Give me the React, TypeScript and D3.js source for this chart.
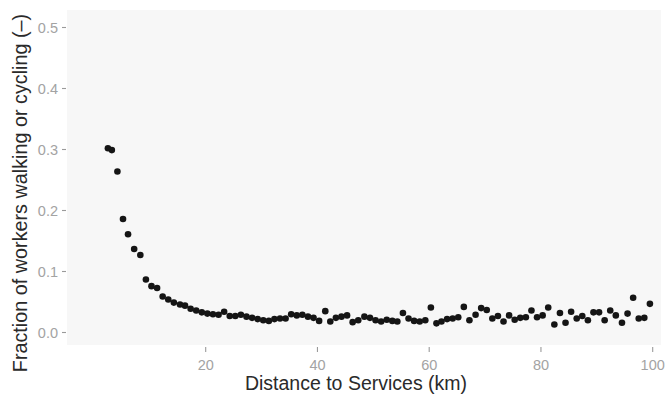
import React from "react";
import * as d3 from "d3";

const distanceKm = [
  2.5, 3.2, 4.2, 5.2, 6.1, 7.2, 8.3, 9.3, 10.3, 11.3, 12.3, 13.3, 14.3, 15.4,
  16.3, 17.3, 18.3, 19.3, 20.3, 21.3, 22.3, 23.3, 24.3, 25.3, 26.3, 27.3, 28.3,
  29.3, 30.3, 31.3, 32.3, 33.3, 34.3, 35.3, 36.3, 37.3, 38.3, 39.3, 40.3, 41.4,
  42.3, 43.3, 44.3, 45.3, 46.3, 47.3, 48.4, 49.4, 50.4, 51.4, 52.4, 53.4, 54.3,
  55.3, 56.3, 57.3, 58.3, 59.3, 60.3, 61.3, 62.2, 63.2, 64.2, 65.2, 66.2, 67.2,
  68.3, 69.3, 70.3, 71.3, 72.3, 73.3, 74.3, 75.3, 76.3, 77.3, 78.3, 79.3, 80.3,
  81.3, 82.4, 83.4, 84.4, 85.4, 86.4, 87.4, 88.4, 89.4, 90.4, 91.4, 92.4, 93.4,
  94.5, 95.5, 96.5, 97.5, 98.5, 99.5,
];

const fractionWalkCycle = [
  0.302, 0.299, 0.264, 0.186, 0.161, 0.137, 0.127, 0.087, 0.076, 0.073, 0.059,
  0.054, 0.049, 0.046, 0.044, 0.039, 0.036, 0.033, 0.031, 0.030, 0.029, 0.034,
  0.027, 0.027, 0.029, 0.026, 0.024, 0.022, 0.020, 0.019, 0.022, 0.023, 0.023,
  0.030, 0.028, 0.029, 0.026, 0.024, 0.019, 0.035, 0.018, 0.024, 0.026, 0.028,
  0.017, 0.020, 0.026, 0.024, 0.020, 0.018, 0.021, 0.019, 0.018, 0.032, 0.023,
  0.019, 0.018, 0.020, 0.041, 0.015, 0.018, 0.022, 0.023, 0.025, 0.042, 0.020,
  0.029, 0.040, 0.037, 0.023, 0.027, 0.018, 0.028, 0.021, 0.024, 0.025, 0.036,
  0.025, 0.028, 0.041, 0.013, 0.032, 0.016, 0.034, 0.023, 0.027, 0.020, 0.033,
  0.033, 0.020, 0.036, 0.028, 0.016, 0.031, 0.057, 0.023, 0.024, 0.047,
];

const xTicks = [20, 40, 60, 80, 100];
const yTicks = [0.0, 0.1, 0.2, 0.3, 0.4, 0.5];

const xTitle = "Distance to Services (km)";
const yTitle = "Fraction of workers walking or cycling (\u2013)";

export default function App() {
  const W = 667;
  const H = 396;
  const panel = { left: 67, right: 661, top: 10, bottom: 345 };

  const x = d3.scaleLinear().domain([0, 100]).range([93.95, 652.7]);
  const y = d3.scaleLinear().domain([0, 0.5]).range([332.5, 27.5]);

  const points = distanceKm.map((d, i) => ({ d, v: fractionWalkCycle[i] }));
  const font = "'Liberation Sans', Arial, Helvetica, sans-serif";

  return (
    <svg
      width={W}
      height={H}
      style={{ position: "absolute", left: 0, top: 0, background: "#ffffff" }}
      fontFamily={font}
    >
      <rect
        x={panel.left}
        y={panel.top}
        width={panel.right - panel.left}
        height={panel.bottom - panel.top}
        fill="#f7f7f7"
      />
      {yTicks.map((t) => (
        <g key={"y" + t}>
          <line
            x1={panel.left - 5}
            x2={panel.left - 1}
            y1={y(t)}
            y2={y(t)}
            stroke="#9a9a9a"
            strokeWidth={1.1}
          />
          <text
            x={panel.left - 9}
            y={y(t)}
            dy="0.36em"
            textAnchor="end"
            fontSize={14.5}
            fill="#a3a3a3"
          >
            {d3.format(".1f")(t)}
          </text>
        </g>
      ))}
      {xTicks.map((t) => (
        <g key={"x" + t}>
          <line
            x1={x(t)}
            x2={x(t)}
            y1={panel.bottom + 2}
            y2={panel.bottom + 7}
            stroke="#9a9a9a"
            strokeWidth={1.1}
          />
          <text
            x={x(t)}
            y={370}
            textAnchor="middle"
            fontSize={14.5}
            fill="#a3a3a3"
          >
            {t}
          </text>
        </g>
      ))}
      {points.map((p, i) => (
        <circle key={i} cx={x(p.d)} cy={y(p.v)} r={3.3} fill="#151515" />
      ))}
      <text
        x={356}
        y={390}
        textAnchor="middle"
        fontSize={19.5}
        fill="#2a2a2a"
      >
        {xTitle}
      </text>
      <text
        transform={`translate(27,${193}) rotate(-90)`}
        textAnchor="middle"
        fontSize={19.8}
        fill="#2a2a2a"
      >
        {yTitle}
      </text>
    </svg>
  );
}
